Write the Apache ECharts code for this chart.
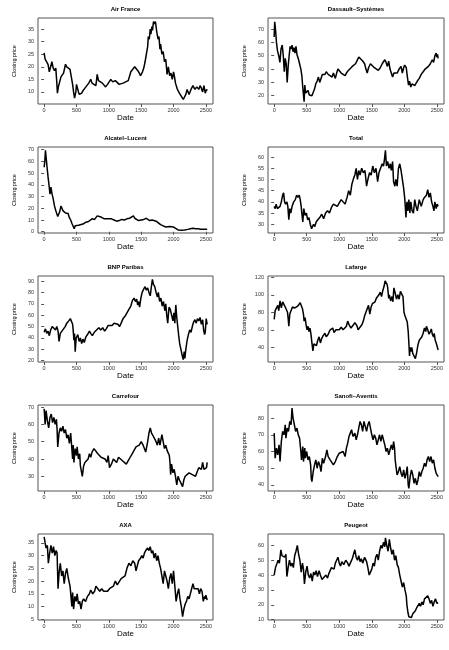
<!DOCTYPE html>
<html>
<head>
<meta charset="utf-8">
<script src="https://cdn.jsdelivr.net/npm/echarts@6/dist/echarts.min.js"></script>
<style>
  html, body { margin: 0; padding: 0; background: #fff; }
  #main { width: 449px; height: 650px; }
</style>
</head>
<body>
<div id="main"></div>
<script>
// [trading day, closing price]
const airFrance = [[0,25.5],[15,23],[35,22.5],[60,21],[80,18],[100,20],[120,22],[140,19.5],[160,18.5],[180,19.5],[195,14],[205,9.5],[220,12],[240,14],[260,16],[280,16.5],[300,17.5],[330,21],[350,20],[370,20.5],[400,19],[420,16],[440,13],[455,10],[470,7.5],[490,10],[500,13],[515,11.5],[530,10],[545,9],[560,8.5],[580,9.5],[600,10.5],[630,11.5],[660,12.5],[690,13.5],[720,15],[740,13.5],[770,13],[800,12.5],[820,17],[840,14.5],[870,15],[900,13.5],[930,13],[950,12],[980,13],[1000,13.5],[1030,15],[1060,14],[1100,14.5],[1130,14],[1160,13],[1190,12.5],[1220,13.5],[1260,14],[1300,14.5],[1320,15],[1340,18],[1370,19],[1400,20],[1430,19.5],[1460,18],[1490,16.5],[1520,18],[1540,19.5],[1560,22],[1580,25],[1600,28],[1610,32],[1625,31],[1640,35],[1650,33],[1665,36],[1675,34.5],[1690,38],[1705,37],[1720,38],[1740,34],[1760,31],[1775,32],[1790,27],[1800,29],[1820,25],[1840,26],[1860,22],[1880,23],[1900,17],[1920,20],[1940,16.5],[1960,17.5],[1980,15],[2000,18],[2015,16],[2030,13.5],[2060,11],[2090,9.5],[2120,9.5],[2150,7],[2170,7.5],[2190,9],[2210,11],[2240,9],[2270,11],[2300,12.5],[2330,11],[2360,12],[2390,11],[2410,12.5],[2430,11.5],[2450,10],[2470,12.5],[2490,9.5],[2510,11],[2520,10.5]];
const dassault = [[0,64],[8,75.5],[20,70],[35,60],[50,54],[70,50],[88,45],[105,55],[124,58],[140,50],[155,38],[170,48],[185,44],[200,30],[215,42],[230,50],[245,57],[260,55],[275,58],[290,53],[305,56],[320,52],[335,57],[350,51],[370,48],[390,44],[410,40],[425,35],[440,26],[460,15.5],[470,28],[485,22],[500,21],[520,24],[540,20.5],[560,22],[580,20],[600,21],[620,25],[640,29],[660,31],[680,34],[700,30],[720,33],[740,36],[760,37],[780,36],[800,38],[830,36],[860,37],[890,34],[910,37],[940,33],[960,37],[980,40],[1000,38.5],[1030,37],[1060,38],[1090,35],[1110,37],[1140,39],[1160,40.5],[1200,42],[1230,41],[1250,44],[1270,46],[1300,49],[1330,48],[1360,46],[1390,44],[1410,40],[1430,37],[1450,41],[1480,44],[1510,43],[1540,41],[1570,40],[1600,39],[1630,41],[1660,44],[1700,47],[1720,45],[1740,42],[1760,46],[1780,40],[1800,37],[1820,34],[1840,37],[1860,38],[1890,37],[1920,40],[1950,42],[1970,37],[1990,41],[2005,43],[2030,41],[2050,33],[2065,28],[2080,31],[2100,26.5],[2120,29],[2140,30],[2160,27.5],[2180,29],[2200,31],[2230,33],[2260,36],[2290,38],[2320,40],[2340,38.5],[2370,42],[2400,44],[2430,47],[2450,45],[2470,50],[2490,52],[2500,49],[2510,51],[2520,48]];
const alcatel = [[0,55],[10,60],[20,69.5],[30,64],[45,55],[60,47],[75,40],[90,32],[105,38],[120,33],[140,28],[160,22],[180,18],[195,19],[210,13],[225,12],[240,17],[260,22],[275,20],[290,18],[310,17.5],[330,16],[350,15],[370,15.5],[390,12],[410,10],[430,7],[450,4.5],[465,2.5],[480,5],[500,6],[530,5.5],[560,7],[600,6.5],[640,8],[680,8.5],[710,10],[740,11],[780,10.5],[800,12],[820,13.5],[850,13],[880,12.5],[900,12],[930,11],[960,9.5],[990,11],[1010,12],[1040,11],[1080,10],[1120,9],[1160,9.5],[1200,10.5],[1240,10],[1280,11],[1320,11.5],[1350,12],[1380,13.5],[1400,11.5],[1430,10],[1460,9.5],[1500,10],[1540,10.5],[1580,11.5],[1600,10.5],[1630,9.5],[1670,10],[1700,11],[1730,9],[1760,7.5],[1800,6],[1840,5],[1880,4],[1910,3.5],[1940,4.5],[1970,3.5],[2000,4],[2030,2.5],[2070,1.5],[2120,1.2],[2170,1.5],[2220,2],[2260,2.5],[2300,3],[2340,2.5],[2380,2.5],[2420,2.2],[2460,2],[2500,2],[2520,2]];
const total = [[0,38],[15,37],[30,39],[50,37],[70,36.5],[90,38],[110,40],[130,43],[145,44],[160,40],[175,39],[195,40],[210,38],[225,32],[240,37],[255,35],[275,38],[300,40],[325,41],[345,43],[365,42],[385,43],[400,41],[415,38],[425,35],[440,31],[455,37],[475,34],[495,35],[515,32],[535,33],[555,30],[575,28],[590,27.5],[605,30],[625,29],[645,31],[670,32],[700,33],[730,34.5],[760,32.5],[790,35],[820,36],[850,35],[880,37.5],[910,39],[940,38.5],[970,38],[1000,39.5],[1030,41],[1060,40],[1090,39],[1120,42],[1145,45],[1170,43],[1195,48],[1220,50.5],[1240,52],[1260,55],[1280,50],[1300,54],[1320,52],[1345,55],[1370,53],[1395,54],[1420,47],[1440,50],[1465,53],[1490,52],[1515,56],[1540,53],[1565,55],[1590,49],[1610,53],[1635,55],[1660,57],[1680,56],[1695,59],[1710,63],[1725,56],[1745,58],[1765,55],[1785,57],[1800,54],[1820,58],[1835,49],[1855,47],[1870,50],[1890,47],[1910,55],[1930,57],[1950,54],[1970,50],[1990,46],[2005,42],[2015,38],[2025,33],[2040,40],[2055,36],[2070,41],[2085,35],[2100,40],[2120,36],[2140,35],[2160,41],[2180,38],[2200,36],[2230,41],[2260,38],[2290,41],[2310,42],[2340,43],[2360,45.5],[2380,42],[2400,44],[2420,40],[2440,38],[2455,36],[2470,40],[2490,37],[2505,39],[2520,38]];
const bnp = [[0,45],[20,48],[40,44],[60,46],[80,42],[100,47],[125,50],[150,49],[175,47],[195,50],[215,46],[230,37],[250,44],[275,46],[300,48],[325,50],[350,53],[380,55],[405,57],[425,58.5],[440,52],[450,46],[460,38],[470,44],[480,28],[495,40],[520,43],[540,37],[560,40],[580,35],[600,39],[620,36],[645,41],[670,43],[700,46],[720,44],[745,42],[775,45],[810,47],[845,49],[875,47],[905,49],[935,46],[960,48],[990,51],[1020,52],[1050,51],[1080,53],[1110,54],[1140,52],[1165,50],[1190,53],[1220,57],[1250,59],[1280,62],[1310,65],[1340,68],[1365,73],[1390,75],[1410,72],[1430,74],[1445,69],[1460,72],[1475,67],[1495,75],[1515,80],[1540,83],[1560,85],[1580,82],[1600,84],[1620,80],[1640,77],[1655,84],[1673,91.5],[1690,87],[1710,85],[1730,80],[1750,76],[1765,80],[1785,72],[1805,75],[1825,68],[1845,72],[1865,64],[1880,70],[1895,60],[1910,53],[1930,67],[1950,65],[1970,60],[1990,55],[2005,62],[2020,53],[2035,69],[2050,58],[2065,50],[2080,42],[2095,35],[2110,31],[2125,27],[2140,23],[2150,21],[2165,28],[2175,22],[2190,30],[2210,38],[2230,43],[2250,47],[2270,45],[2290,50],[2310,54],[2330,56],[2350,53],[2370,57],[2390,55],[2410,58],[2430,52],[2450,56],[2465,47],[2480,43],[2490,45],[2505,57],[2520,52]];
const lafarge = [[0,72],[15,82],[35,80],[55,88],[70,82],[90,93],[110,85],[130,92],[150,89],[170,86],[190,84],[205,80],[215,73],[225,64],[240,78],[260,82],[280,86],[300,88],[320,85],[340,84],[360,87],[380,89],[400,91],[420,87],[435,84],[450,78],[460,70],[475,74],[490,66],[505,60],[520,64],[535,58],[550,62],[565,55],[580,45],[595,36],[610,44],[630,46],[650,42],[670,48],[690,52],[710,45],[730,50],[750,53],[780,56],[800,52],[830,55],[860,60],[880,58],[900,62],[920,57],[950,60],[980,62],[1000,60],[1030,63],[1060,60],[1090,62],[1110,64],[1130,70],[1150,66],[1180,62],[1210,65],[1240,68],[1270,65],[1290,60],[1320,62],[1350,66],[1370,70],[1390,76],[1410,80],[1430,84],[1450,88],[1470,78],[1490,86],[1510,90],[1530,88],[1550,92],[1570,96],[1590,98],[1610,100],[1630,103],[1650,98],[1670,105],[1690,110],[1705,116],[1720,118],[1735,112],[1745,108],[1760,96],[1770,100],[1790,93],[1810,98],[1825,92],[1840,108],[1860,102],[1880,95],[1900,100],[1920,95],[1940,104],[1960,106],[1980,98],[1995,80],[2010,76],[2030,72],[2045,69],[2060,58],[2070,45],[2080,30],[2090,40],[2100,35],[2115,40],[2130,33],[2150,30],[2170,27],[2190,34],[2210,43],[2230,48],[2250,46],[2270,52],[2290,56],[2310,62],[2330,58],[2340,64],[2360,60],[2380,55],[2400,58],[2415,61],[2430,55],[2450,52],[2460,56],[2475,48],[2490,45],[2505,41],[2520,37]];
const carrefour = [[0,69],[15,60],[30,68],[50,62],[70,58],[90,64],[110,66],[130,61],[150,64],[170,60],[190,63],[200,57],[210,47],[230,55],[250,58],[270,56],[290,59],[310,55],[330,57],[350,52],[370,54],[390,49],[410,55],[420,50],[440,40],[450,48],[460,38],[480,46],[500,42],[510,47],[530,40],[550,43],[560,36],[575,33],[590,30],[610,36],[630,38],[660,37],[680,40],[700,43],[720,41],[740,44],[770,46],[800,45],[830,43],[860,44],[880,41],[910,42],[940,40],[970,38],[990,42],[1010,35],[1040,37],[1070,40],[1100,41],[1120,38],[1150,41],[1180,40],[1210,39],[1240,38],[1270,37],[1300,39],[1330,41],[1360,43],[1390,45],[1420,47],[1440,46],[1470,48],[1500,50],[1530,48],[1550,47],[1570,44],[1600,50],[1620,55],[1640,58],[1660,55],[1690,53],[1710,52],[1730,50],[1750,48],[1770,52],[1790,48],[1820,54],[1840,50],[1860,46],[1880,48],[1900,45],[1920,46],[1935,42],[1945,38],[1955,31],[1970,37],[1990,32],[2010,34],[2030,30],[2050,25],[2070,30],[2090,28],[2110,27],[2140,24],[2160,28],[2180,30],[2210,29],[2240,32],[2260,33],[2290,31],[2320,32],[2340,30],[2370,33],[2390,35],[2410,36],[2430,34],[2450,38],[2470,34],[2490,33],[2510,35],[2520,38]];
const sanofi = [[0,71],[15,56],[35,62],[55,58],[75,64],[90,54],[110,66],[130,72],[150,70],[170,76],[180,68],[200,74],[220,72],[240,78],[260,76],[274,86],[290,80],[310,76],[330,72],[350,74],[370,70],[390,68],[410,60],[420,55],[440,63],[450,54],[470,62],[480,56],[500,60],[520,55],[540,57],[560,52],[570,44],[580,42],[600,48],[620,52],[640,55],[660,50],[680,54],[700,52],[720,48],[740,56],[760,53],[790,57],[810,61],[830,57],[860,55],[890,54],[910,52],[940,54],[970,57],[1000,59],[1030,58],[1060,60],[1090,57],[1110,62],[1130,65],[1150,69],[1170,71],[1190,73],[1210,69],[1240,71],[1260,67],[1280,70],[1300,74],[1320,78],[1340,76],[1360,72],[1380,78],[1400,75],[1420,72],[1440,76],[1460,78],[1480,74],[1500,70],[1520,67],[1540,70],[1560,68],[1580,64],[1600,67],[1620,70],[1640,66],[1660,70],[1680,71],[1700,64],[1720,60],[1740,62],[1760,58],[1780,61],[1800,64],[1820,61],[1835,66],[1850,62],[1860,55],[1875,50],[1890,46],[1910,48],[1930,51],[1950,47],[1970,45],[1990,49],[2010,44],[2030,47],[2045,51],[2060,40],[2070,38],[2090,45],[2110,49],[2130,46],[2150,41],[2170,44],[2190,40],[2210,43],[2230,48],[2250,45],[2270,48],[2290,50],[2310,53],[2330,51],[2350,55],[2370,57],[2390,54],[2410,57],[2430,53],[2450,55],[2470,50],[2490,47],[2505,46],[2520,45]];
const axa = [[0,37.4],[15,35],[30,33],[50,34],[65,27],[85,31],[105,34],[125,31],[145,33.5],[165,30],[185,32],[200,31],[215,17],[230,23],[250,27],[270,22],[290,24],[310,19],[330,23],[350,25],[375,21],[400,18],[415,14],[428,10],[440,15.5],[455,9],[475,14],[495,12],[510,15],[530,11],[550,12],[570,9],[590,12],[610,13],[640,12],[670,14],[700,15],[720,16.5],[750,15],[780,16],[800,18],[830,17],[860,16],[890,17],[920,16],[950,15.5],[980,16],[1010,17],[1040,17.5],[1070,18],[1100,20],[1130,18.5],[1160,19],[1190,21],[1220,20.5],[1250,22],[1280,25],[1310,27],[1340,26],[1370,28],[1400,27],[1420,24],[1440,26],[1460,28],[1490,29],[1510,30],[1530,29],[1550,31],[1570,32],[1600,33],[1620,32],[1640,33.5],[1660,31],[1680,32],[1700,29],[1720,31],[1740,28],[1760,30],[1780,27],[1800,25],[1820,22],[1840,19],[1860,24],[1880,22],[1900,20],[1920,17],[1940,21],[1960,23],[1980,19],[2000,24],[2020,18],[2040,12],[2060,15],[2080,17],[2100,13],[2120,10],[2140,6],[2160,9],[2180,11],[2200,12],[2220,14],[2240,13],[2260,15],[2280,17],[2300,19],[2320,17],[2350,16.5],[2380,17],[2400,15],[2420,17],[2440,16],[2460,12],[2480,14],[2490,13],[2500,14.5],[2520,12.5]];
const peugeot = [[0,40],[20,45],[40,44],[60,50],[80,48],[103,57],[120,53],[140,54],[160,52],[180,54],[195,39],[215,45],[235,50],[255,46],[275,48],[295,45],[315,53],[335,56],[356,60],[375,54],[395,50],[415,42],[435,48],[450,44],[465,34],[485,42],[505,46],[525,40],[545,38],[565,41],[585,36],[605,42],[625,40],[645,43],[665,39],[690,43],[710,40],[735,37],[765,38],[795,40],[820,38],[840,41],[860,43],[880,45],[900,46],[920,44],[940,48],[960,50],[980,52],[1000,48],[1020,46],[1040,49],[1070,47],[1100,50],[1130,48],[1150,46],[1180,49],[1200,51],[1220,54],[1240,57],[1260,52],[1280,50],[1300,53],[1320,49],[1340,51],[1360,48],[1390,52],[1420,49],[1440,45],[1460,40],[1480,42],[1500,44],[1520,48],[1540,46],[1560,52],[1580,54],[1600,50],[1620,56],[1640,60],[1660,58],[1680,62],[1700,59],[1710,65],[1730,60],[1750,56],[1770,64],[1790,58],[1810,54],[1830,57],[1850,50],[1870,53],[1890,47],[1910,45],[1930,40],[1950,36],[1970,32],[1990,35],[2010,30],[2030,26],[2040,20],[2055,15],[2070,12],[2090,13],[2110,11.5],[2130,14],[2150,13],[2170,16],[2190,18],[2210,17],[2230,21],[2250,19],[2270,22],[2290,20],[2310,24],[2330,23],[2360,26],[2380,24],[2400,21],[2420,23],[2440,19],[2460,22],[2480,24],[2500,21],[2520,21.5]];

// tick labels
const xTicks = [0, 500, 1000, 1500, 2000, 2500];
const ticksAirFrance = [10, 15, 20, 25, 30, 35];
const ticksDassault = [20, 30, 40, 50, 60, 70];
const ticksAlcatel = [0, 10, 20, 30, 40, 50, 60, 70];
const ticksTotal = [30, 35, 40, 45, 50, 55, 60];
const ticksBnp = [20, 30, 40, 50, 60, 70, 80, 90];
const ticksLafarge = [40, 60, 80, 100, 120];
const ticksCarrefour = [30, 40, 50, 60, 70];
const ticksSanofi = [40, 50, 60, 70, 80];
const ticksAxa = [5, 10, 15, 20, 25, 30, 35];
const ticksPeugeot = [10, 20, 30, 40, 50, 60];

const panels = [
  { name: 'Air France', data: airFrance, ticks: ticksAirFrance, min: 5.2, max: 39.4 },
  { name: 'Dassault\u2013Systèmes', data: dassault, ticks: ticksDassault, min: 13.8, max: 78.3 },
  { name: 'Alcatel\u2013Lucent', data: alcatel, ticks: ticksAlcatel, min: -1.1, max: 72.3 },
  { name: 'Total', data: total, ticks: ticksTotal, min: 26.1, max: 64.5 },
  { name: 'BNP Paribas', data: bnp, ticks: ticksBnp, min: 18.9, max: 94.4 },
  { name: 'Lafarge', data: lafarge, ticks: ticksLafarge, min: 23.2, max: 121.5 },
  { name: 'Carrefour', data: carrefour, ticks: ticksCarrefour, min: 21.5, max: 71.2 },
  { name: 'Sanofi\u2013Aventis', data: sanofi, ticks: ticksSanofi, min: 36.4, max: 87.8 },
  { name: 'AXA', data: axa, ticks: ticksAxa, min: 4.7, max: 38.5 },
  { name: 'Peugeot', data: peugeot, ticks: ticksPeugeot, min: 9.8, max: 67.6 }
];

const font = 'Liberation Sans, Arial, sans-serif';
const plain = v => String(v);
let grids = [], xAxes = [], yAxes = [], series = [], titles = [];

panels.forEach((p, i) => {
  let col = i % 2, row = Math.floor(i / 2);
  let left = col ? 268 : 38;
  let width = col ? 176 : 175;
  let top = 18 + 129 * row;
  grids.push({ left: left, top: top, width: width, height: 86,
    show: true, borderColor: '#555', borderWidth: 1 });
  titles.push({ text: p.name, left: left + width / 2, top: top - 12, textAlign: 'center', padding: 0,
    textStyle: { fontFamily: font, fontSize: 6, fontWeight: 'bold', color: '#000' } });
  xAxes.push({
    type: 'value', gridIndex: i, min: -95, max: 2610,
    name: 'Date', nameLocation: 'middle', nameGap: 10,
    nameTextStyle: { fontFamily: font, fontSize: 8, color: '#000' },
    axisLine: { show: false },
    axisTick: { show: true, length: 3, customValues: xTicks, lineStyle: { color: '#555' } },
    axisLabel: { customValues: xTicks, formatter: plain, fontFamily: font, fontSize: 5.5, color: '#333', margin: 3 },
    splitLine: { show: false }
  });
  yAxes.push({
    type: 'value', gridIndex: i, min: p.min, max: p.max,
    name: 'Closing price', nameLocation: 'middle', nameGap: 21, nameRotate: 90,
    nameTextStyle: { fontFamily: font, fontSize: 5.5, color: '#000' },
    axisLine: { show: false },
    axisTick: { show: true, length: 3, customValues: p.ticks, lineStyle: { color: '#555' } },
    axisLabel: { customValues: p.ticks, formatter: plain, fontFamily: font, fontSize: 5.5, color: '#333', margin: 4 },
    splitLine: { show: false }
  });
  series.push({
    type: 'line', xAxisIndex: i, yAxisIndex: i, data: p.data,
    showSymbol: false, silent: true,
    lineStyle: { color: '#000', width: 1.5 }
  });
});

let myChart = echarts.init(document.getElementById('main'));
myChart.setOption({
  animation: false,
  backgroundColor: '#fff',
  title: titles,
  grid: grids,
  xAxis: xAxes,
  yAxis: yAxes,
  series: series
});
</script>
</body>
</html>
